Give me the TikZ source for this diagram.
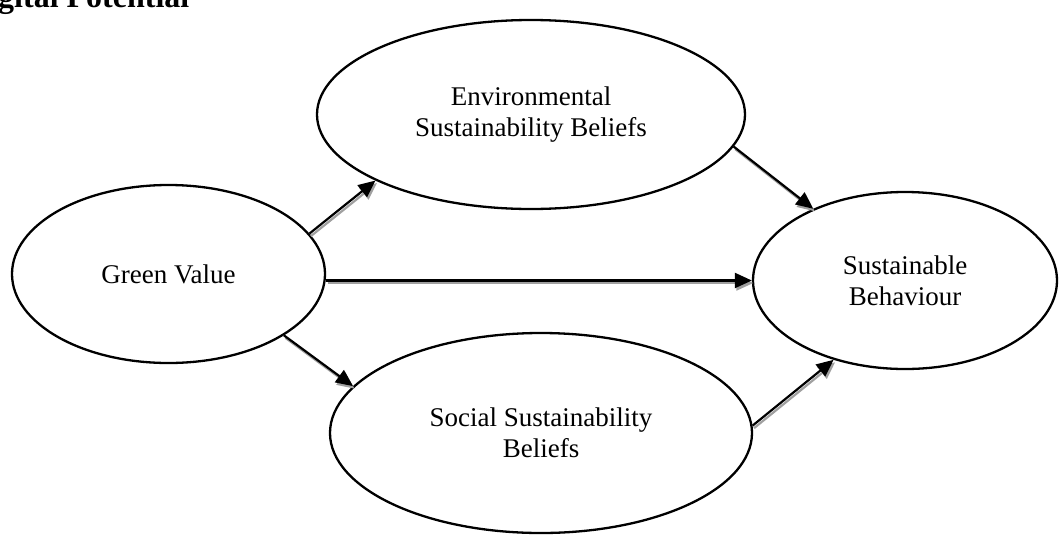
\documentclass[tikz,border=0pt]{standalone}
\usepackage{fontspec}
\setmainfont{Liberation Serif}
\usetikzlibrary{arrows.meta,calc,shapes.geometric}
\definecolor{shadowgray}{RGB}{160,160,160}

% all connectors of the model, drawn once as shadow and once in black
\newcommand\drawlinks{%
  \draw[link] (gv.16) -- (env.203);
  \draw[link] (env.-9) -- (sv.142);
  \draw[link] (gv.-28) -- (soc.166);
  \draw[link] (soc.2) -- (sv.228);
  \draw[link] (gv.east |- sv.west) -- (sv.west);
}

\begin{document}
\begin{tikzpicture}[x=1pt,y=-1pt,
  construct/.style={draw, line width=2.3pt, ellipse, inner sep=0pt, align=center,
    font=\fontsize{27}{31}\selectfont},
  link/.style={line width=2.2pt, -{Triangle[length=17pt,width=15pt]}},
]
\useasboundingbox (0,0) rectangle (1060,536);
\clip (0,0) rectangle (1060,536);

\node[anchor=base west, inner sep=0pt, font=\bfseries\fontsize{32}{36}\selectfont]
  (title) at (-2,7) {gital Potential};

\node[construct, minimum width=313pt, minimum height=178pt] (gv)  at (168.5,274) {Green Value};
\node[construct, minimum width=428pt, minimum height=189pt] (env) at (531,114.5) {Environmental\\Sustainability Beliefs};
\node[construct, minimum width=422pt, minimum height=200pt] (soc) at (541,433) {Social Sustainability\\Beliefs};
\node[construct, minimum width=304pt, minimum height=177pt] (sv)  at (905,280.5) {Sustainable\\Behaviour};

\begin{scope}[transform canvas={shift={(1.5pt,-2.5pt)}},
  link/.append style={draw=shadowgray, fill=shadowgray}]
  \drawlinks
\end{scope}
\drawlinks
\end{tikzpicture}
\end{document}
